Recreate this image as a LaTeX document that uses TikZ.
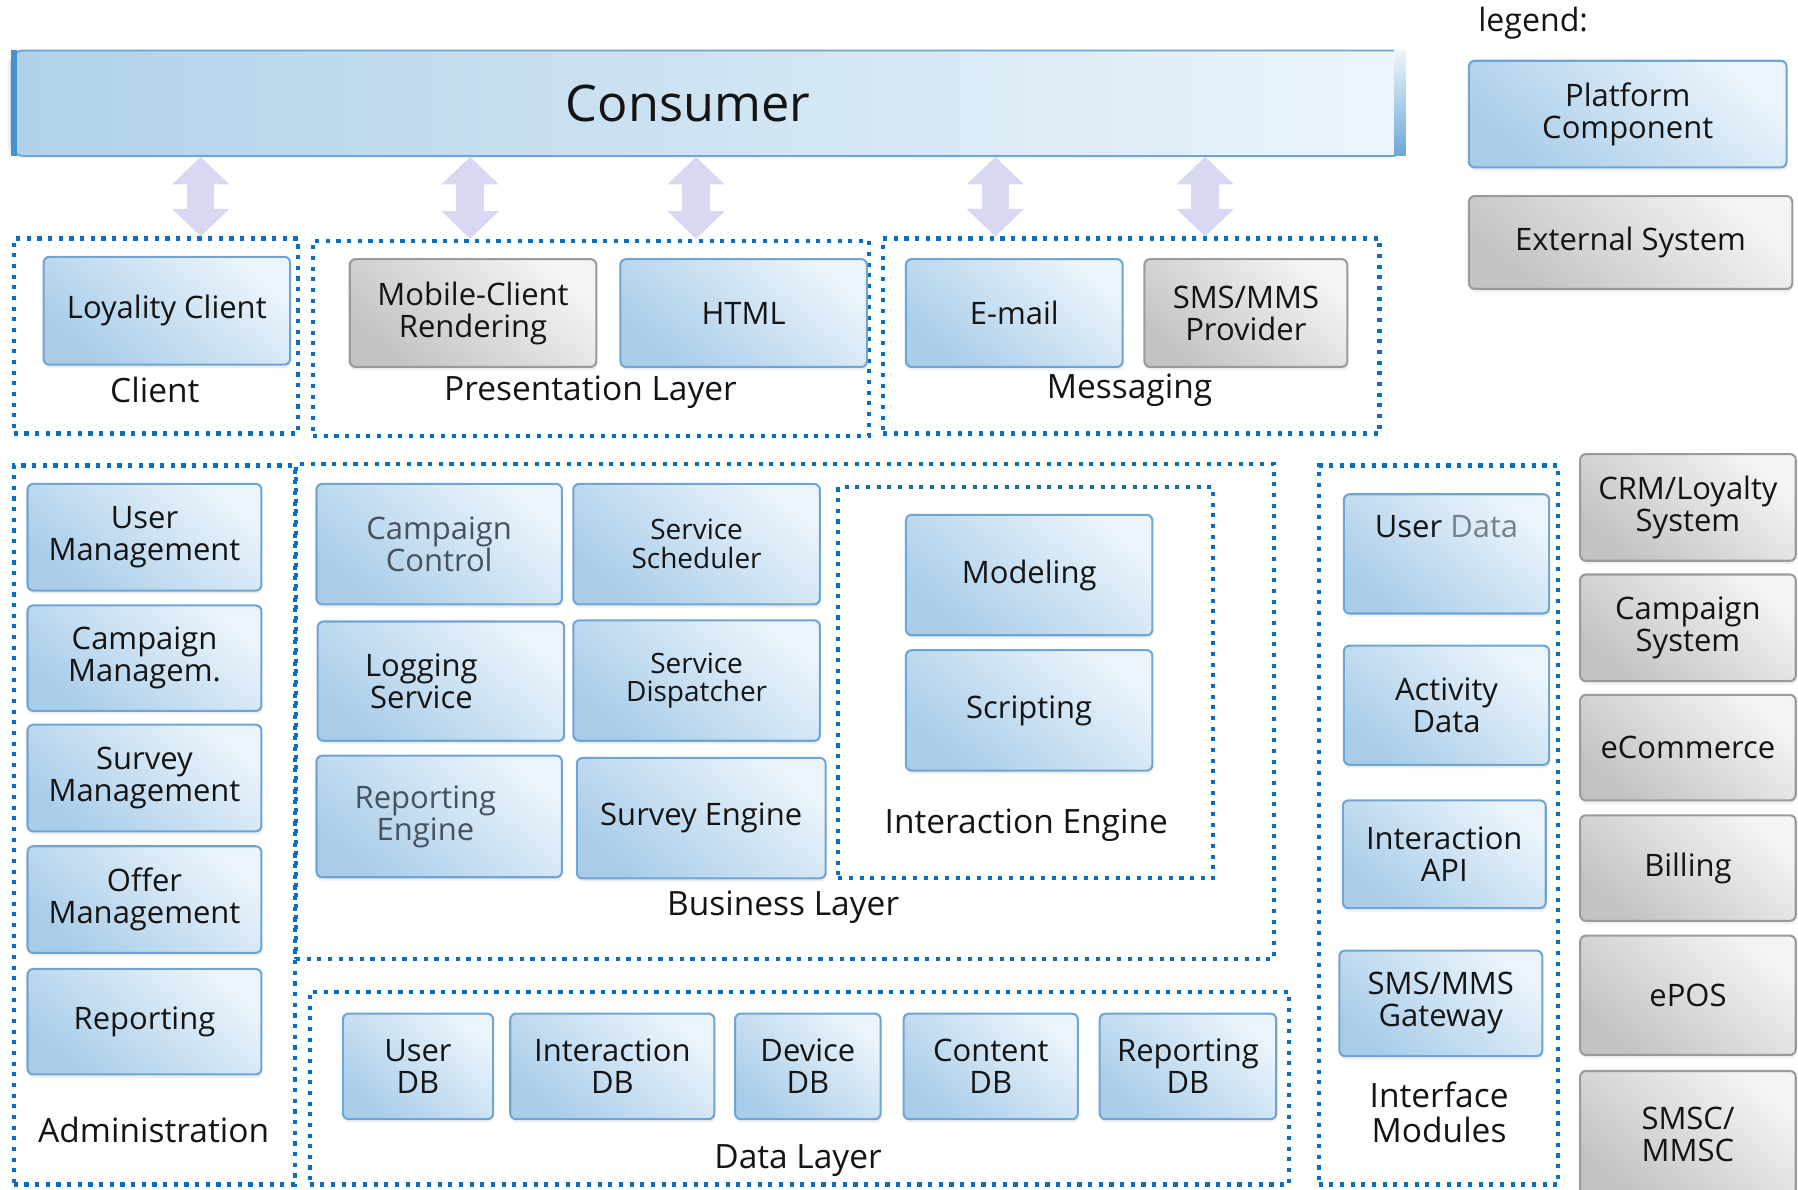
\documentclass[tikz,border=0pt]{standalone}
\usepackage{fontspec}
\setmainfont{Open Sans}
\usetikzlibrary{arrows.meta,shadows}
\definecolor{bluelt}{HTML}{EBF4FB}
\definecolor{bluedk}{HTML}{A9CDE9}
\definecolor{blueln}{HTML}{6FA5D4}
\definecolor{greylt}{HTML}{F4F4F4}
\definecolor{greydk}{HTML}{C3C3C3}
\definecolor{greyln}{HTML}{9A9A9A}
\definecolor{dotc}{HTML}{0A6FC2}
\definecolor{arrc}{HTML}{D8D8F3}
\definecolor{fadetxt}{HTML}{46525E}
\definecolor{fadetxt2}{HTML}{75808A}
\definecolor{txt}{HTML}{141414}
\definecolor{consl}{HTML}{B0D2EA}
\definecolor{consr}{HTML}{EDF5FB}
\definecolor{consstrip}{HTML}{4592CE}
\tikzset{
  box/.style n args={4}{minimum width={(#3-#1)*0.5pt}, minimum height={(#4-#2)*0.5pt},
    at={({(#1+#3)/2},{(#2+#4)/2})}},
  comp/.style={draw=blueln, line width=0.9pt, rounded corners=2.5pt,
    top color=bluelt, bottom color=bluedk, shading angle=-40,
    inner sep=0pt, align=center, text=txt,
    font=\fontsize{13.5}{14}\selectfont,
    drop shadow={shadow xshift=0.4pt, shadow yshift=-1.5pt, opacity=0.12}},
  ext/.style={comp, draw=greyln, top color=greylt, bottom color=greydk, shading angle=-40},
  small/.style={font=\fontsize{12.2}{12.6}\selectfont},
  grp/.style={draw=dotc, line width=1.8pt, dash pattern=on 1.8pt off 2.85pt, inner sep=0pt},
  glabel/.style={font=\fontsize{14.6}{15.4}\selectfont, text=txt, align=center, inner sep=0pt},
  dblarrow/.style={draw=arrc, line width=12pt,
    {Triangle[length=12pt,width=25pt,line width=0pt]}-{Triangle[length=12pt,width=25pt,line width=0pt]}},
}
\begin{document}
\begin{tikzpicture}[x=0.5pt,y=-0.5pt]
\useasboundingbox (0,0) rectangle (1568,1037);
\clip (0,0) rectangle (1568,1037);

% ---------- Consumer bar ----------
\node[box={10}{44}{1225}{136}, inner sep=0pt, draw=blueln, line width=0.8pt,
      rounded corners=5pt, left color=consl, right color=consr,
      drop shadow={shadow xshift=-1.5pt, shadow yshift=-1pt, opacity=0.1}] (consumer) {};
\fill[consstrip] ([yshift=-0.4pt]consumer.north west) rectangle ([xshift=3pt,yshift=0.4pt]consumer.south west);
\shade[top color=consr, bottom color=consstrip!80] ([xshift=-5pt,yshift=-0.4pt]consumer.north east) rectangle ([yshift=0.4pt]consumer.south east);
\node[font=\fontsize{22}{26}\selectfont, text=txt, inner sep=0pt] (constxt) at (600,90) {Consumer};

% ---------- legend ----------
\node[glabel, font=\fontsize{14}{15}\selectfont] (legend) at (1337,20) {legend:};
\node[comp, box={1281}{53}{1558}{146}] (legpc) {Platform\\Component};
\node[ext, box={1281}{171}{1563}{252}] (leges) {External System};

% ---------- top groups ----------
\node[grp, box={12}{208}{260}{378}] (gClient) {};
\node[grp, box={273}{210}{758}{380}] (gPres) {};
\node[grp, box={770}{208}{1203}{378}] (gMsg) {};

\node[comp, box={38}{224}{253}{318}] (loy) {Loyality Client};
\node[glabel] (lClient) at (135,340) {Client};

\node[ext, box={305}{226}{520}{320}] (mob) {Mobile-Client\\Rendering};
\node[comp, box={541}{226}{756}{320}] (html) {HTML};
\node[glabel] (lPres) at (515,342) {Presentation Layer};

\node[comp, box={790}{226}{979}{320}] (email) {E-mail};
\node[ext, box={998}{226}{1175}{320}] (smsprov) {SMS/MMS\\Provider};
\node[glabel] (lMsg) at (985,340) {Messaging};

% ---------- arrows ----------
\coordinate (ax1) at (175,0);
\coordinate (ax2) at (410,0);
\coordinate (ax3) at (607,0);
\coordinate (ax4) at (868,0);
\coordinate (ax5) at (1051,0);
\draw[dblarrow] (consumer.south -| ax1) -- (gClient.north -| ax1);
\draw[dblarrow] (consumer.south -| ax2) -- (gPres.north -| ax2);
\draw[dblarrow] (consumer.south -| ax3) -- (gPres.north -| ax3);
\draw[dblarrow] (consumer.south -| ax4) -- (gMsg.north -| ax4);
\draw[dblarrow] (consumer.south -| ax5) -- (gMsg.north -| ax5);

% ---------- Administration ----------
\node[grp, box={12}{406}{257}{1033}] (gAdmin) {};
\node[comp, box={24}{422}{228}{515}] (userm) {User\\Management};
\node[comp, box={24}{528}{228}{620}] (campm) {Campaign\\Managem.};
\node[comp, box={24}{632}{228}{725}] (survm) {Survey\\Management};
\node[comp, box={24}{738}{228}{831}] (offm) {Offer\\Management};
\node[comp, box={24}{845}{228}{937}] (repo) {Reporting};
\node[glabel] (lAdmin) at (134,985) {Administration};

% ---------- Business Layer ----------
\node[grp, box={258}{405}{1111}{836}] (gBiz) {};
\node[comp, box={276}{422}{490}{527}, text=fadetxt] (cc) {Campaign\\Control};
\node[comp, small, box={500}{422}{715}{527}] (ss) {Service\\Scheduler};
\node[comp, box={277}{542}{492}{646}] (ls) {\hspace*{-17pt}Logging\\\hspace*{-17pt}Service};
\node[comp, small, box={500}{541}{715}{646}] (sd) {Service\\Dispatcher};
\node[comp, box={276}{659}{490}{765}, text=fadetxt] (re) {\hspace*{-12pt}Reporting\\\hspace*{-12pt}Engine};
\node[comp, box={503}{661}{720}{766}] (se) {Survey Engine};
\node[glabel] (lBiz) at (683,791) {Business Layer};

\node[grp, box={731}{425}{1058}{766}] (gIE) {};
\node[comp, box={790}{449}{1005}{554}] (model) {Modeling};
\node[comp, box={790}{567}{1005}{672}] (script) {Scripting};
\node[glabel] (lIE) at (895,720) {Interaction Engine};

% ---------- Data Layer ----------
\node[grp, box={270}{865}{1124}{1033}] (gData) {};
\node[comp, box={299}{884}{430}{976}] (udb) {User\\DB};
\node[comp, box={445}{884}{623}{976}] (idb) {Interaction\\DB};
\node[comp, box={641}{884}{768}{976}] (ddb) {Device\\DB};
\node[comp, box={788}{884}{940}{976}] (cdb) {Content\\DB};
\node[comp, box={959}{884}{1113}{976}] (rdb) {Reporting\\DB};
\node[glabel] (lData) at (696,1012) {Data Layer};

% ---------- Interface Modules ----------
\node[grp, box={1150}{406}{1359}{1033}] (gIface) {};
\node[comp, box={1172}{431}{1351}{535}] (ud) {User \textcolor{fadetxt2}{Data}\\[6pt]\strut};
\node[comp, box={1172}{563}{1351}{667}] (ad) {Activity\\Data};
\node[comp, box={1171}{698}{1348}{792}] (iapi) {Interaction\\API};
\node[comp, box={1168}{829}{1345}{921}] (smsgw) {SMS/MMS\\Gateway};
\node[glabel, font=\fontsize{14.6}{15.6}\selectfont] (lIface) at (1255,970) {Interface\\Modules};

% ---------- External systems ----------
\node[ext, box={1378}{396}{1566}{489}] (crm) {CRM/Loyalty\\System};
\node[ext, box={1378}{501}{1566}{594}] (camps) {Campaign\\System};
\node[ext, box={1378}{606}{1566}{698}] (ecom) {eCommerce};
\node[ext, box={1378}{711}{1566}{803}] (bill) {Billing};
\node[ext, box={1378}{816}{1566}{920}] (epos) {ePOS};
\node[ext, box={1378}{934}{1566}{1045}] (smsc) {SMSC/\\MMSC};
\end{tikzpicture}
\end{document}
